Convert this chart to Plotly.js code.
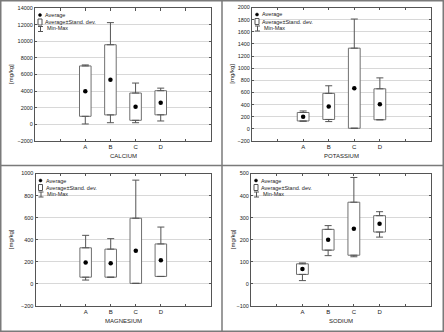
<!DOCTYPE html>
<html>
<head>
<meta charset="utf-8">
<script src="https://cdn.plot.ly/plotly-3.0.1.min.js"></script>
<style>html,body{margin:0;padding:0;background:#fff;}#chart{width:444px;height:332px;}</style>
</head>
<body>
<div id="chart"></div>
<script>
// ---- data ----
const categories = ['A', 'B', 'C', 'D'];
const panelTitles = ['CALCIUM', 'POTASSIUM', 'MAGNESIUM', 'SODIUM'];
const yTitle = '[mg/kg]';
const legendLabels = ['Average', 'Average\u00b1Stand. dev.', 'Min-Max'];

const calciumMean = [4000, 5360, 2130, 2600];
const calciumSD   = [3030, 4220, 1640, 1450];
const calciumMin  = [50, 200, 200, 410];
const calciumMax  = [7150, 12240, 4970, 4360];

const potassiumMean = [200, 370, 670, 405];
const potassiumSD   = [70, 215, 660, 255];
const potassiumMin  = [125, 120, 10, 150];
const potassiumMax  = [295, 710, 1810, 840];

const magnesiumMean = [194, 188, 300, 215];
const magnesiumSD   = [133, 127, 295, 147];
const magnesiumMin  = [35, 60, 5, 67];
const magnesiumMax  = [440, 410, 940, 515];

const sodiumMean = [67, 200, 250, 272];
const sodiumSD   = [24, 47, 120, 37];
const sodiumMin  = [15, 128, 123, 212];
const sodiumMax  = [95, 264, 482, 327];

const yRanges = [[-2000, 14000], [-200, 2000], [-200, 1000], [-100, 500]];
const yDticks = [2000, 200, 200, 100];

// ---- layout geometry (pixels) ----
const W = 444, H = 332;
const fx = x => x / W, fy = y => 1 - y / H;
const geo = [
  {l: 35, r: 211, t: 8, b: 141, pl: 0, pt: 0},
  {l: 252, r: 431, t: 7.5, b: 141, pl: 222, pt: 0},
  {l: 35.5, r: 211, t: 173.5, b: 306, pl: 0, pt: 166},
  {l: 251, r: 431, t: 173.5, b: 306, pl: 222, pt: 166}
];
const series = [
  [calciumMean, calciumSD, calciumMin, calciumMax],
  [potassiumMean, potassiumSD, potassiumMin, potassiumMax],
  [magnesiumMean, magnesiumSD, magnesiumMin, magnesiumMax],
  [sodiumMean, sodiumSD, sodiumMin, sodiumMax]
];

const FONT = 'Liberation Sans, Arial, sans-serif';
const TXT = '#222';
const traces = [];
const layout = {
  width: W, height: H,
  margin: {l: 0, r: 0, t: 0, b: 0},
  paper_bgcolor: '#fff', plot_bgcolor: '#fff',
  showlegend: false,
  font: {family: FONT, size: 6, color: TXT},
  shapes: [], annotations: []
};

const idx = categories.map((c, i) => i);

series.forEach((s, p) => {
  const [mean, sd, mn, mx] = s;
  const n = p + 1;
  const xa = 'x' + (n === 1 ? '' : n), ya = 'y' + (n === 1 ? '' : n);
  const g = geo[p];
  const hi = mean.map((m, i) => m + sd[i]);
  const lo = mean.map((m, i) => m - sd[i]);

  traces.push({
    type: 'bar', x: idx, base: lo, y: sd.map(v => 2 * v), width: 0.46,
    marker: {color: '#fff', line: {color: '#707070', width: 1}},
    xaxis: xa, yaxis: ya, hoverinfo: 'skip'
  });
  traces.push({
    type: 'scatter', mode: 'markers', x: idx, y: hi,
    marker: {size: 1, color: 'rgba(0,0,0,0)'},
    error_y: {type: 'data', symmetric: false,
      array: mx.map((v, i) => Math.max(0, v - hi[i])), arrayminus: idx.map(() => 0),
      color: '#555', thickness: 1, width: 3.5},
    xaxis: xa, yaxis: ya, hoverinfo: 'skip'
  });
  traces.push({
    type: 'scatter', mode: 'markers', x: idx, y: lo,
    marker: {size: 1, color: 'rgba(0,0,0,0)'},
    error_y: {type: 'data', symmetric: false,
      array: idx.map(() => 0), arrayminus: mn.map((v, i) => Math.max(0, lo[i] - v)),
      color: '#555', thickness: 1, width: 3.5},
    xaxis: xa, yaxis: ya, hoverinfo: 'skip'
  });
  traces.push({
    type: 'scatter', mode: 'markers', x: idx, y: mean,
    marker: {size: 4.5, color: '#000', symbol: 'circle'},
    xaxis: xa, yaxis: ya, hoverinfo: 'skip'
  });

  const xk = 'xaxis' + (n === 1 ? '' : n), yk = 'yaxis' + (n === 1 ? '' : n);
  layout[xk] = {
    domain: [fx(g.l), fx(g.r)], anchor: ya, range: [-2, 5],
    tickvals: [-1].concat(idx, [categories.length]),
    ticktext: [''].concat(categories, ['']),
    ticks: 'inside', ticklen: 2.5, tickcolor: '#555',
    showline: true, linecolor: '#555', linewidth: 1, mirror: 'ticks',
    showgrid: false, zeroline: false, fixedrange: true,
    tickfont: {family: FONT, size: 6, color: TXT}
  };
  layout[yk] = {
    domain: [fy(g.b), fy(g.t)], anchor: xa, range: yRanges[p], dtick: yDticks[p],
    tickformat: 'd', ticks: 'inside', ticklen: 2, tickcolor: '#555',
    showline: true, linecolor: '#555', linewidth: 1, mirror: 'ticks',
    showgrid: true, gridcolor: '#d8d8d8', gridwidth: 1, zeroline: false, fixedrange: true,
    tickfont: {family: FONT, size: 5.5, color: TXT}
  };

  // axis titles
  layout.annotations.push({
    xref: 'paper', yref: 'paper', x: fx((g.l + g.r) / 2), y: fy(g.b + 14.5),
    text: panelTitles[p], showarrow: false, xanchor: 'center', yanchor: 'middle',
    font: {family: FONT, size: 6, color: TXT}
  });
  layout.annotations.push({
    xref: 'paper', yref: 'paper', x: fx(g.pl + 10.5), y: fy((g.t + g.b) / 2),
    text: yTitle, showarrow: false, textangle: -90, xanchor: 'center', yanchor: 'middle',
    font: {family: FONT, size: 6, color: TXT}
  });

  // legend
  const L = g.l, T = g.t;
  layout.shapes.push({type: 'circle', xref: 'paper', yref: 'paper',
    x0: fx(L + 3.5), x1: fx(L + 6.5), y0: fy(T + 5.5), y1: fy(T + 8.5),
    fillcolor: '#000', line: {color: '#000', width: 0.5}});
  layout.shapes.push({type: 'rect', xref: 'paper', yref: 'paper',
    x0: fx(L + 3), x1: fx(L + 7), y0: fy(T + 11), y1: fy(T + 17),
    fillcolor: '#fff', line: {color: '#555', width: 1}});
  layout.shapes.push({type: 'path', xref: 'paper', yref: 'paper',
    path: `M ${fx(L + 3)} ${fy(T + 18.5)} L ${fx(L + 8)} ${fy(T + 18.5)} M ${fx(L + 5.5)} ${fy(T + 18.5)} L ${fx(L + 5.5)} ${fy(T + 23.5)} M ${fx(L + 3)} ${fy(T + 23.5)} L ${fx(L + 8)} ${fy(T + 23.5)}`,
    line: {color: '#555', width: 1}});
  const ly = [T + 7, T + 14, T + 20.5];
  const lx = [L + 8, L + 8, L + 9.5];
  legendLabels.forEach((t, k) => {
    layout.annotations.push({
      xref: 'paper', yref: 'paper', x: fx(lx[k]), y: fy(ly[k]), text: t,
      showarrow: false, xanchor: 'left', yanchor: 'middle',
      font: {family: FONT, size: 5.5, color: TXT}
    });
  });
});

// panel frames
const frame = {color: '#7a7a7a', width: 1.5};
layout.shapes.push({type: 'rect', xref: 'paper', yref: 'paper', x0: fx(0.75), x1: fx(443.25), y0: fy(0.75), y1: fy(331.25), line: frame});
layout.shapes.push({type: 'line', xref: 'paper', yref: 'paper', x0: fx(222), x1: fx(222), y0: 0, y1: 1, line: frame});
layout.shapes.push({type: 'line', xref: 'paper', yref: 'paper', x0: 0, x1: 1, y0: fy(165.5), y1: fy(165.5), line: frame});

Plotly.newPlot('chart', traces, layout, {staticPlot: true, displayModeBar: false});
</script>
</body>
</html>
